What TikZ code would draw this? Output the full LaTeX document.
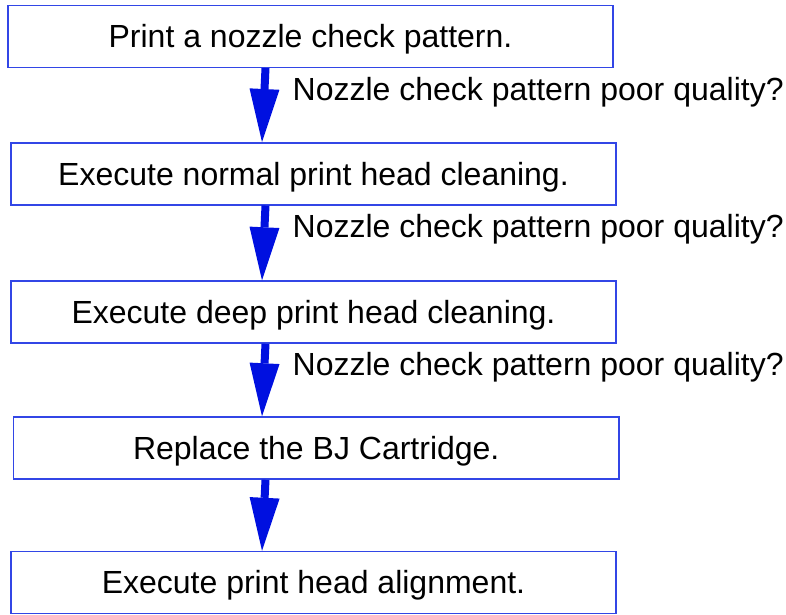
\documentclass[tikz,border=0pt]{standalone}
\usepackage{fontspec}
\setmainfont{Liberation Sans}
\usetikzlibrary{arrows.meta}
\definecolor{boxblue}{RGB}{50,70,230}
\definecolor{arrblue}{RGB}{0,16,224}
\tikzset{
  stepbox/.style={draw=boxblue, line width=1.5pt, inner sep=0pt,
    minimum height=62pt, text height=22.9pt, text depth=0pt,
    font=\fontsize{32pt}{38pt}\selectfont, text=black},
  qlabel/.style={anchor=base west, inner sep=0pt,
    font=\fontsize{32pt}{38pt}\selectfont, text=black},
  bigarrow/.style={draw=arrblue, line width=8pt,
    -{Triangle[width=30pt,length=53pt,line width=0pt]}, arrblue}
}
\begin{document}
\begin{tikzpicture}[x=1pt,y=1pt]
\useasboundingbox (0,0) rectangle (786,-614);
\node[stepbox, minimum width=605pt] (b1) at (310.5,-36.25) {Print a nozzle check pattern.};
\node[stepbox, minimum width=605pt] (b2) at (313.5,-173.75) {Execute normal print head cleaning.};
\node[stepbox, minimum width=605pt] (b3) at (313.5,-312) {Execute deep print head cleaning.};
\node[stepbox, minimum width=605.5pt] (b4) at (316.25,-448) {Replace the BJ Cartridge.};
\node[stepbox, minimum width=605pt] (b5) at (313.5,-582.5) {Execute print head alignment.};
\coordinate (xa) at (265.5,0);
\coordinate (xb) at (262,0);
\draw[bigarrow] (b1.south -| xa) -- (b2.north -| xb);
\draw[bigarrow] (b2.south -| xa) -- (b3.north -| xb);
\draw[bigarrow] (b3.south -| xa) -- (b4.north -| xb);
\draw[bigarrow] (b4.south -| xa) -- (b5.north -| xb);
\node[qlabel] (q1) at (292.5,-100) {Nozzle check pattern poor quality?};
\node[qlabel] (q2) at (292.5,-237.5) {Nozzle check pattern poor quality?};
\node[qlabel] (q3) at (292.5,-375.5) {Nozzle check pattern poor quality?};
\end{tikzpicture}
\end{document}
